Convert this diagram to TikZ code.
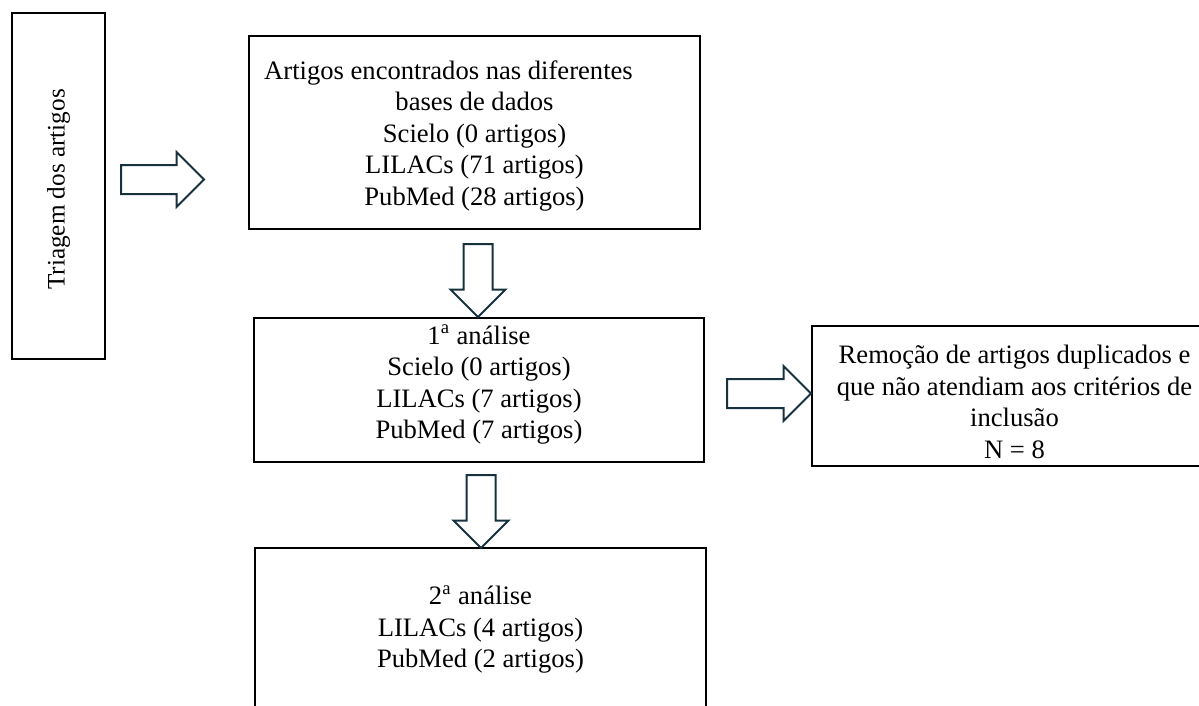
\documentclass[tikz,border=0pt]{standalone}
\usepackage{fontspec}
\setmainfont{Liberation Serif}
\usetikzlibrary{shapes.arrows}
\definecolor{arrowline}{HTML}{17313F}

\begin{document}
\begin{tikzpicture}[x=0.5pt,y=-0.5pt,
    font=\fontsize{13.3}{15.75}\selectfont,
    box/.style={draw,line width=1.3pt,align=center,inner sep=0pt},
    blockarrow/.style={single arrow,draw=arrowline,line width=1pt,fill=white,
      minimum width=0pt,inner xsep=0pt,inner ysep=6.75pt,
      single arrow head extend=6.5pt,single arrow tip angle=90,anchor=tail}]
  \useasboundingbox (0,0) rectangle (1199,706);
  \clip (0,0) rectangle (1199,706);
  % boxes
  \node[box,rotate=90,minimum width=173pt,minimum height=46.5pt,
    font=\fontsize{12.6}{15}\selectfont] (triage) at (58.5,186)
    {Triagem dos artigos\hspace*{3.5pt}};
  \node[box,minimum width=225.5pt,minimum height=96.5pt] (found) at (474.5,132.5)
    {\rule{0pt}{12.6pt}Artigos encontrados nas diferentes\hspace*{26pt}\\bases de dados\\
     Scielo (0 artigos)\\LILACs (71 artigos)\\PubMed (28 artigos)};
  \node[box,minimum width=225pt,minimum height=72pt] (first) at (479,390)
    {1\textsuperscript{a} análise\\Scielo (0 artigos)\\LILACs (7 artigos)\\
     PubMed (7 artigos)\rule[-7.9pt]{0pt}{0pt}};
  \node[box,minimum width=202.5pt,minimum height=70pt] (removal) at (1014.5,396)
    {\rule{0pt}{15pt}Remoção de artigos duplicados e\\que não atendiam aos critérios de\\
     inclusão\\N = 8};
  \node[box,minimum width=225.5pt,minimum height=80pt] (second) at (480.5,628)
    {\rule{0pt}{11pt}2\textsuperscript{a} análise\\LILACs (4 artigos)\\PubMed (2 artigos)};
  % block arrows
  \node[blockarrow,minimum height=41.5pt] (toFound) at (120,179.5) {};
  \node[blockarrow,rotate=-90,minimum height=36.5pt] (toFirst) at (478,243) {};
  \node[blockarrow,minimum height=42pt] (toRemoval) at (726,393.5) {};
  \node[blockarrow,rotate=-90,minimum height=36.5pt] (toSecond) at (481,474) {};
\end{tikzpicture}
\end{document}
